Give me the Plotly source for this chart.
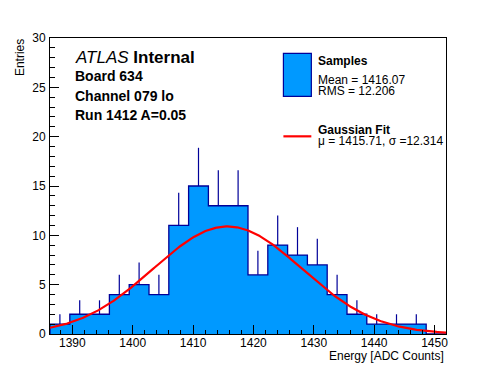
import numpy as np
import plotly.graph_objects as go

# ---- data ----
bin_low = 1386.3
bin_width = 3.28
counts = [1, 2, 2, 4, 5, 4, 11, 15, 13, 13, 6, 9, 8, 7, 4, 2, 1, 1, 1, 0]
fit_mu = 1415.71
fit_sigma = 12.314
fit_amp = 10.9
mean_val = 1416.07
rms_val = 12.206
x_range = [1386.3, 1451.9]
y_range = [0, 30]
x_ticks = [1390, 1400, 1410, 1420, 1430, 1440, 1450]
y_ticks = [0, 5, 10, 15, 20, 25, 30]
info_lines = ["Board 634", "Channel 079 lo", "Run 1412 A=0.05"]

FILL = "#0099ff"
NAVY = "#000099"
FONT = "Liberation Sans, Arial, Helvetica, sans-serif"

OFF = 8  # page body margin
W, H = 496 - OFF, 372 - OFF
ML, MR, MT, MB = 49.5 - OFF, 49.5, 37.5 - OFF, 38
PW, PH = W - ML - MR, H - MT - MB


def px(x):
    return (x - OFF - ML) / PW


def py(y):
    return (H + OFF - MB - y) / PH


n = len(counts)
edges = [bin_low + i * bin_width for i in range(n + 1)]
centers = [bin_low + (i + 0.5) * bin_width for i in range(n)]
counts_arr = np.array(counts, dtype=float)

fig = go.Figure()
fig.add_trace(go.Bar(x=centers, y=counts, width=bin_width, marker=dict(color=FILL, line=dict(width=0)),
                     showlegend=False, hoverinfo="skip"))
# step outline
step_x = [edges[0]] + edges
step_y = [0] + counts + [counts[-1]]
fig.add_trace(go.Scatter(x=step_x, y=step_y, mode="lines", line=dict(color=NAVY, width=1.3, shape="hv"),
                         showlegend=False, hoverinfo="skip"))
# error bars (upper half visible)
mask = counts_arr > 0
fig.add_trace(go.Scatter(x=np.array(centers)[mask], y=counts_arr[mask], mode="markers",
                         marker=dict(size=0.1, color=NAVY, opacity=0),
                         error_y=dict(type="data", symmetric=False, array=np.sqrt(counts_arr[mask]),
                                      arrayminus=np.zeros(mask.sum()), width=0, thickness=1.2, color=NAVY),
                         showlegend=False, hoverinfo="skip"))
# gaussian fit
xf = np.linspace(x_range[0], x_range[1], 300)
yf = fit_amp * np.exp(-0.5 * ((xf - fit_mu) / fit_sigma) ** 2)
fig.add_trace(go.Scatter(x=xf, y=yf, mode="lines", line=dict(color="#ff0000", width=2.2),
                         showlegend=False, hoverinfo="skip"))

axis_common = dict(showline=True, mirror=True, linecolor="black", linewidth=1, ticks="inside",
                   tickcolor="black", showgrid=False, zeroline=False,
                   tickfont=dict(family=FONT, size=12, color="black"))
fig.update_xaxes(range=x_range, tickvals=x_ticks, ticklen=9, ticklabelstandoff=-2,
                 minor=dict(dtick=2, ticklen=4, ticks="inside", tickcolor="black", showgrid=False),
                 **axis_common)
fig.update_yaxes(range=y_range, tickvals=y_ticks, ticklen=9, ticklabelstandoff=1,
                 minor=dict(dtick=1, ticklen=5, ticks="inside", tickcolor="black", showgrid=False),
                 **axis_common)

ann = []


def text(x, y, s, size, xanchor="left", angle=0, yanchor="middle"):
    ann.append(dict(x=px(x), y=py(y), xref="paper", yref="paper", text=s, showarrow=False,
                    xanchor=xanchor, yanchor=yanchor, textangle=angle,
                    font=dict(family=FONT, size=size, color="black")))


text(73, 57, "<i>ATLAS</i> <b>Internal</b>", 17)
for i, line in enumerate(info_lines):
    text(73, 76 + i * 19.4, f"<b>{line}</b>", 14)

# legend
text(316, 61, "<b>Samples</b>", 12)
text(316, 79.5, f"Mean = {mean_val:.2f}", 12)
text(316, 90.5, f"RMS = {rms_val:.3f}", 12)
text(316, 129.5, "<b>Gaussian Fit</b>", 12)
text(316, 141, f"\u03bc = {fit_mu:.2f}, \u03c3 ={fit_sigma:.3f}", 12)

text(446, 356, "Energy [ADC Counts]", 12, xanchor="right")
text(19, 36.5, "Entries", 12, xanchor="center", angle=-90, yanchor="top")

shapes = [
    dict(type="rect", xref="paper", yref="paper", x0=px(283.5), x1=px(311.5), y0=py(96), y1=py(53),
         fillcolor=FILL, line=dict(color=NAVY, width=1.2)),
    dict(type="line", xref="paper", yref="paper", x0=px(283.5), x1=px(311.5), y0=py(136), y1=py(136),
         line=dict(color="#ff0000", width=2.2)),
]

fig.update_layout(width=W, height=H, margin=dict(l=ML, r=MR, t=MT, b=MB, pad=0),
                  paper_bgcolor="white", plot_bgcolor="white", annotations=ann, shapes=shapes,
                  showlegend=False, bargap=0)
fig.write_html("out.html")
